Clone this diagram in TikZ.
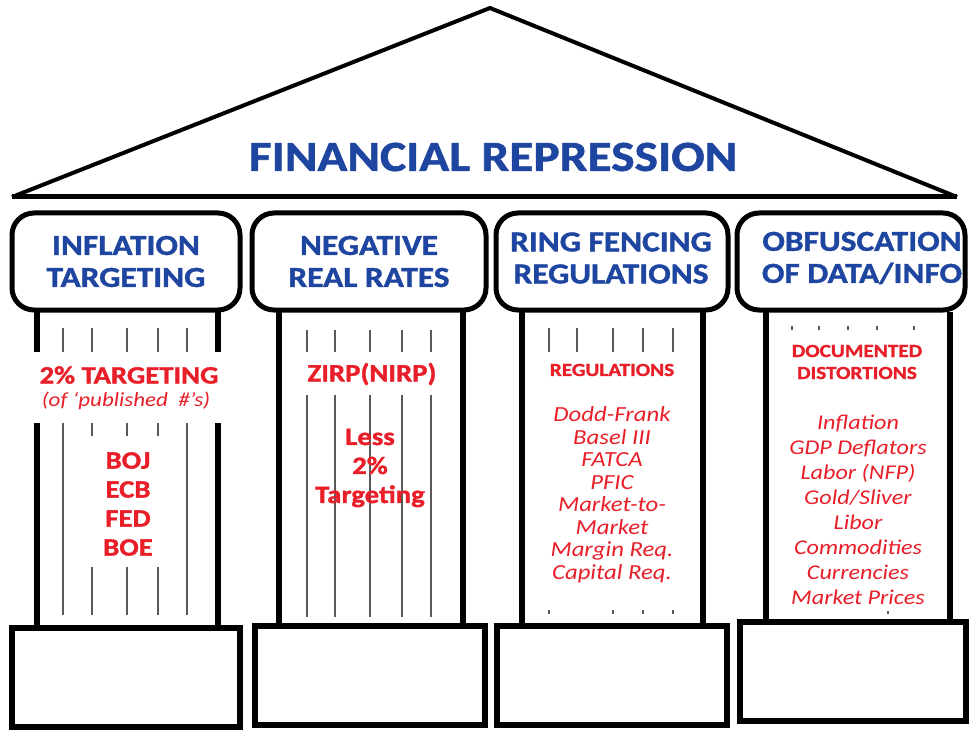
\documentclass[tikz,border=0pt]{standalone}
\usepackage{fontspec}
\setmainfont{Carlito}[FakeStretch=1.15, BoldFeatures={FakeBold=1.3}]
\definecolor{capblue}{RGB}{30,70,160}
\definecolor{txtred}{RGB}{232,30,40}
\tikzset{
  roofline/.style={line width=4pt, line join=miter},
  capbox/.style={draw, line width=5pt, rounded corners=22pt, fill=white, text=capblue,
    font=\bfseries\fontsize{29}{32}\selectfont, align=center, inner sep=0pt},
  captext/.style={text=capblue, font=\bfseries\fontsize{29}{32}\selectfont, align=center, inner sep=0pt},
  basebox/.style={draw, line width=6pt, fill=white, inner sep=0pt},
  shaftline/.style={line width=6pt},
  flute/.style={line width=1.6pt, black!65},
  redbold/.style={text=txtred, font=\bfseries\fontsize{25}{29}\selectfont, align=center, inner sep=0pt},
  redsmallbold/.style={text=txtred, font=\bfseries\fontsize{18.5}{22}\selectfont, align=center, inner sep=0pt},
  reditalic/.style={text=txtred, font=\itshape\fontsize{21.5}{22.5}\selectfont, align=center, inner sep=0pt},
  titletext/.style={text=capblue, font=\bfseries\fontsize{43}{46}\selectfont, inner sep=0pt}
}
\begin{document}
\begin{tikzpicture}[x=1pt,y=-1pt]
\useasboundingbox (0,0) rectangle (969,730);
\fill[white] (0,0) rectangle (969,730);
% roof
\coordinate (apex) at (490,8);
\coordinate (roofL) at (12,197);
\coordinate (roofR) at (957,197);
\draw[roofline] (roofL) -- (apex) -- (roofR);
\draw[line width=5pt] (roofL) -- (roofR);
\node[titletext] (title) at (493,157) {FINANCIAL REPRESSION};

% ---------- column 1 shaft ----------
\draw[shaftline] (37,312) -- (37,352) (37,423) -- (37,628);
\draw[shaftline] (218,312) -- (218,352) (218,423) -- (218,628);
\foreach \x in {63,92,127,158,187} \draw[flute] (\x,328) -- (\x,352);
\foreach \x in {63,187} \draw[flute] (\x,423) -- (\x,615);
\foreach \x in {92,127,158} {\draw[flute] (\x,423) -- (\x,436); \draw[flute] (\x,567) -- (\x,615);}
% ---------- column 2 shaft ----------
\draw[shaftline] (279,312) -- (279,626);
\draw[shaftline] (463,312) -- (463,626);
\foreach \x in {307,335,370,402,431} {\draw[flute] (\x,330) -- (\x,352); \draw[flute] (\x,395) -- (\x,617);}
% ---------- column 3 shaft ----------
\draw[shaftline] (522,312) -- (522,626);
\draw[shaftline] (703,312) -- (703,626);
\foreach \x in {549,577,613,643,673} \draw[flute] (\x,328) -- (\x,352);
\foreach \x in {549,613,643,673} \draw[flute] (\x,610) -- (\x,614);
% ---------- column 4 shaft ----------
\draw[shaftline] (766,312) -- (766,622);
\draw[shaftline] (950,312) -- (950,622);
\foreach \x in {792,819,848,877,914} \draw[flute] (\x,326) -- (\x,330);
\draw[flute] (888,611) -- (888,614);

% ---------- capitals ----------
\node[capbox, minimum width=228pt, minimum height=97pt] (cap1) at (126,261.5) {INFLATION\\TARGETING};
\node[capbox, minimum width=234pt, minimum height=97pt] (cap2) at (369,261.5) {NEGATIVE\\REAL RATES};
\node[capbox, minimum width=232pt, minimum height=97pt] (cap3) at (612,261.5) {};
\node[captext] (cap3t) at (611,258) {RING FENCING\\REGULATIONS};
\node[capbox, minimum width=228pt, minimum height=97pt] (cap4) at (851,261.5) {};
\node[captext] (cap4t) at (862,258) {OBFUSCATION\\OF DATA/INFO};

% ---------- bases ----------
\node[basebox, minimum width=228pt, minimum height=99pt] (base1) at (126,677.5) {};
\node[basebox, minimum width=230pt, minimum height=99pt] (base2) at (370,675.5) {};
\node[basebox, minimum width=230pt, minimum height=99pt] (base3) at (612,675.5) {};
\node[basebox, minimum width=226pt, minimum height=99pt] (base4) at (853,671.5) {};

% ---------- column texts ----------
\node[redbold] (t1a) at (129,375) {2\% TARGETING};
\node[text=txtred, font=\itshape\fontsize{20}{22}\selectfont, inner sep=0pt] (t1b) at (126,401) {(of `published\ \ \#'s)};
\node[redbold] (t1c) at (128,504) {BOJ\\ECB\\FED\\BOE};

\node[redbold] (t2a) at (372,374) {ZIRP(NIRP)};
\node[redbold] (t2b) at (370,468) {Less\\2\%\\Targeting};

\node[redsmallbold] (t3a) at (612,370) {REGULATIONS};
\node[reditalic] (t3b) at (612,495) {Dodd-Frank\\Basel III\\FATCA\\PFIC\\Market-to-\\Market\\Margin Req.\\Capital Req.};

\node[redsmallbold] (t4a) at (857,362) {DOCUMENTED\\DISTORTIONS};
\node[reditalic, font=\itshape\fontsize{21}{25}\selectfont] (t4b) at (858,510) {Inflation\\GDP Deflators\\Labor (NFP)\\Gold/Sliver\\Libor\\Commodities\\Currencies\\Market Prices};
\end{tikzpicture}
\end{document}
